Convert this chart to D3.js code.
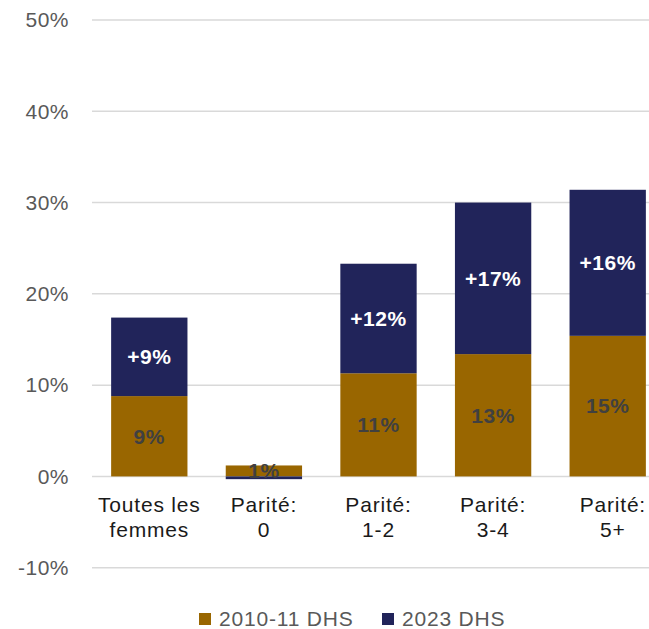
<!DOCTYPE html>
<html>
<head>
<meta charset="utf-8">
<script src="https://cdn.jsdelivr.net/npm/d3@7"></script>
<style>
  body { margin: 0; background: #fff; }
  svg { display: block; font-family: "Liberation Sans", Arial, sans-serif; }
</style>
</head>
<body>
<svg id="chart"></svg>
<script>
// categories and series (percent)
const categories = ["Toutes les\nfemmes", "Parité:\n0", "Parité:\n1-2", "Parité:\n3-4", "Parité:\n5+"];
const base2010 = [8.8, 1.2, 11.3, 13.4, 15.4];
const change2023 = [8.6, -0.3, 12.0, 16.6, 16.0];
const baseLabels = ["9%", "1%", "11%", "13%", "15%"];
const changeLabels = ["+9%", "", "+12%", "+17%", "+16%"];
const yTicks = [-10, 0, 10, 20, 30, 40, 50];
const seriesNames = ["2010-11 DHS", "2023 DHS"];

const colors = { base: "#996600", change: "#21245a" };

const width = 649;
const height = 629;
const margin = { left: 92, top: 20, bottom: 61 };

const svg = d3.select("#chart").attr("width", width).attr("height", height);

// Scales
const yScale = d3.scaleLinear().domain([-10, 50]).range([height - margin.bottom - 0.3, margin.top]);
const xScale = d3.scaleBand()
  .domain(categories)
  .range([margin.left, margin.left + 5 * 114.6])
  .paddingInner(0.334)
  .paddingOuter(0.167);

// Gridlines
svg.append("g")
  .selectAll("line")
  .data(yTicks)
  .join("line")
  .attr("x1", margin.left)
  .attr("x2", width)
  .attr("y1", (d) => yScale(d))
  .attr("y2", (d) => yScale(d))
  .attr("stroke", "#d9d9d9")
  .attr("stroke-width", 1.5);

// Y axis labels
const yAxis = d3.axisLeft(yScale).tickValues(yTicks).tickSize(0).tickPadding(0).tickFormat((d) => d + "%");
svg.append("g")
  .attr("transform", `translate(69,0)`)
  .call(yAxis)
  .call((g) => g.select(".domain").remove())
  .selectAll("text")
  .attr("fill", "#595959")
  .style("font-size", "21px")
  .style("letter-spacing", "0.5px")
  .style("font-family", "'Liberation Sans', Arial, sans-serif");

// Stacked data
const rows = categories.map((c, i) => ({ cat: c, base: base2010[i], change: change2023[i] }));
const stack = d3.stack().keys(["base", "change"]).offset(d3.stackOffsetDiverging);
const layers = stack(rows);

const layerGroups = svg.append("g")
  .selectAll("g")
  .data(layers)
  .join("g")
  .attr("fill", (d) => colors[d.key]);

layerGroups.selectAll("rect")
  .data((d) => d)
  .join("rect")
  .attr("x", (d) => xScale(d.data.cat))
  .attr("width", xScale.bandwidth())
  .attr("y", (d) => yScale(Math.max(d[0], d[1])))
  .attr("height", (d) => Math.abs(yScale(d[0]) - yScale(d[1])));

// Segment labels
layers.forEach((layer) => {
  const labels = layer.key === "base" ? baseLabels : changeLabels;
  svg.append("g")
    .selectAll("text")
    .data(layer)
    .join("text")
    .attr("x", (d) => xScale(d.data.cat) + xScale.bandwidth() / 2)
    .attr("y", (d) => yScale((d[0] + d[1]) / 2))
    .attr("dy", "0.35em")
    .attr("text-anchor", "middle")
    .attr("fill", layer.key === "base" ? "#404040" : "#ffffff")
    .style("font-size", "21px")
    .style("font-weight", "bold")
    .style("letter-spacing", "0.5px")
    .text((d, i) => labels[i]);
});

// Category labels (two lines); a slot cut by the right edge gets its label pushed inside
const catGroup = svg.append("g");
categories.forEach((c) => {
  const cx = xScale(c) + xScale.bandwidth() / 2;
  const slotEnd = xScale(c) + xScale.step();
  const cut = slotEnd > width;
  const t = catGroup.append("text")
    .attr("y", 512)
    .attr("text-anchor", "middle")
    .attr("fill", "#1a1a1a")
    .style("font-size", "21px")
    .style("letter-spacing", "0.8px");
  c.split("\n").forEach((line, j) => {
    t.append("tspan")
      .attr("x", cx)
      .attr("dy", j === 0 ? 0 : 25)
      .text(line);
  });
  if (cut) {
    const box = t.node().getBBox();
    const shift = (width - 3) - (box.x + box.width);
    t.selectAll("tspan").attr("x", cx + shift);
  }
});

// Legend
const legend = svg.append("g").attr("transform", `translate(199,${height})`);
const legendItems = [
  { name: seriesNames[0], color: colors.base, x: 0 },
  { name: seriesNames[1], color: colors.change, x: 183 },
];
legendItems.forEach((item) => {
  legend.append("rect")
    .attr("x", item.x)
    .attr("y", -16)
    .attr("width", 12)
    .attr("height", 12)
    .attr("fill", item.color);
  legend.append("text")
    .attr("x", item.x + 20)
    .attr("y", -3)
    .attr("fill", "#595959")
    .style("font-size", "21px")
    .style("letter-spacing", "0.8px")
    .text(item.name);
});
</script>
</body>
</html>
